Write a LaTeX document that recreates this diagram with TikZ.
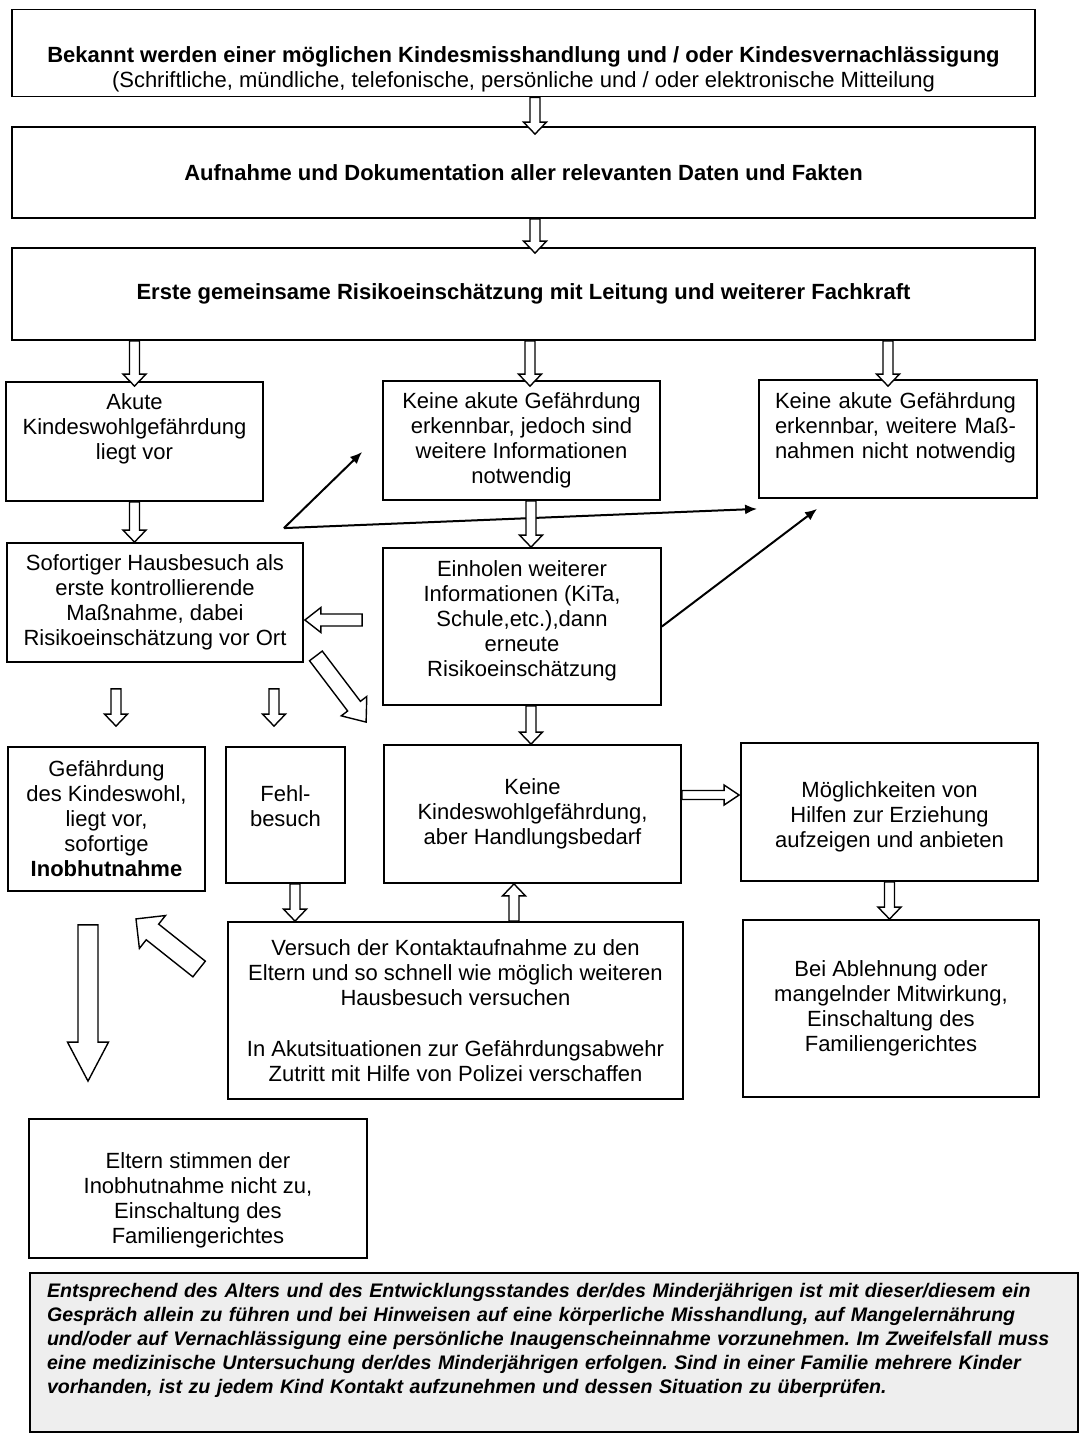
\documentclass[tikz,border=0pt]{standalone}
\usepackage{fontspec}
\setmainfont{Liberation Sans}
\usetikzlibrary{arrows.meta,calc}
\frenchspacing

\newcommand{\padtop}[1]{\rule{0pt}{#1}}
\newcommand{\padbot}[1]{\rule[-#1]{0pt}{0pt}}

% hollow block arrow: start, target, half shaft, half head, head length
\newcommand{\blockarrow}[5]{%
  \draw[hollow] let \p1=(#1), \p2=(#2) in
    ($(\p1)!#3!90:(\p2)$) -- ($(\p2)!#5!(\p1)!#3!90:(\p2)$)
    -- ($(\p2)!#5!(\p1)!#4!90:(\p2)$) -- (\p2)
    -- ($(\p2)!#5!(\p1)!#4!-90:(\p2)$) -- ($(\p2)!#5!(\p1)!#3!-90:(\p2)$)
    -- ($(\p1)!#3!-90:(\p2)$) -- cycle;}
\newcommand{\flow}[2]{\blockarrow{#1}{#2}{2.5pt}{5.75pt}{6pt}}

\begin{document}
\begin{tikzpicture}[x=0.5pt,y=-0.5pt,
    box/.style={draw, line width=0.9pt, align=center, inner sep=0pt,
      font=\fontsize{11}{12.5}\selectfont},
    wh/.style 2 args={minimum width=#1*0.5pt, minimum height=#2*0.5pt},
    hollow/.style={draw, fill=white, line width=0.7pt, line join=miter},
    link/.style={->, line width=1pt}, >={Latex[length=6pt,width=5pt]}]

    \path[fill=white] (0,0) rectangle (1081,1434);

    \node[box, wh={1023}{87}] (known) at (523.5,53) {\padtop{24pt}\textbf{Bekannt werden einer möglichen Kindesmisshandlung und / oder Kindesvernachlässigung}\\(Schriftliche, mündliche, telefonische, persönliche und / oder elektronische Mitteilung};

    \node[box, wh={1023}{91}] (record) at (523.5,172.5) {\textbf{Aufnahme und Dokumentation aller relevanten Daten und Fakten}};

    \node[box, wh={1023}{92}] (assess) at (523.5,294) {\textbf{Erste gemeinsame Risikoeinschätzung mit Leitung und weiterer Fachkraft}};

    \node[box, wh={257}{119}] (acute) at (134.5,441.5) {Akute\\Kindeswohlgefährdung\\liegt vor\padbot{15pt}};

    \node[box, wh={277}{119}] (needinfo) at (521.5,440.5) {Keine akute Gefährdung\\erkennbar, jedoch sind\\weitere Informationen\\notwendig};

    \node[box, wh={278}{118}, text width=123pt, align=left] (nomeasure) at (898,439) {Keine akute Gefährdung\\erkennbar, weitere Maß-\\nahmen nicht notwendig\padbot{13.5pt}};

    \node[box, wh={296}{119}] (visit) at (155,602.5) {Sofortiger Hausbesuch als\\erste kontrollierende\\Maßnahme, dabei\\Risikoeinschätzung vor Ort};

    \node[box, wh={278}{157}] (gather) at (522,626.5) {Einholen weiterer\\Informationen (KiTa,\\Schule,etc.),dann\\erneute\\Risikoeinschätzung\padbot{8pt}};

    \node[box, wh={197}{144}] (danger) at (106.5,819) {Gefährdung\\des Kindeswohl,\\liegt vor,\\sofortige\\\textbf{Inobhutnahme}};

    \node[box, wh={119}{136}] (miss) at (285.5,815) {Fehl-\\besuch\padbot{8.5pt}};

    \node[box, wh={297}{138}] (need) at (532.5,814) {Keine\\Kindeswohlgefährdung,\\aber Handlungsbedarf};

    \node[box, wh={297}{138}] (help) at (889.5,812) {\padtop{13pt}Möglichkeiten von\\Hilfen zur Erziehung\\aufzeigen und anbieten};

    \node[box, wh={455}{177}] (contact) at (455.5,1010.5) {Versuch der Kontaktaufnahme zu den\\Eltern und so schnell wie möglich weiteren\\Hausbesuch versuchen\\[13pt]In Akutsituationen zur Gefährdungsabwehr\\Zutritt mit Hilfe von Polizei verschaffen};

    \node[box, wh={296}{177}] (court) at (891,1008.5) {Bei Ablehnung oder\\mangelnder Mitwirkung,\\Einschaltung des\\Familiengerichtes};

    \node[box, wh={338}{139}] (refuse) at (198,1188.5) {\padtop{20pt}Eltern stimmen der\\Inobhutnahme nicht zu,\\Einschaltung des\\Familiengerichtes};

    \node[box, wh={1048}{159}, fill=gray!13, text width=507pt, align=left,
      font=\fontsize{9.8}{12}\selectfont\bfseries\itshape] (note) at (554,1352.5) {Entsprechend des Alters und des Entwicklungsstandes der/des Minderjährigen ist mit dieser/diesem ein\\Gespräch allein zu führen und bei Hinweisen auf eine körperliche Misshandlung, auf Mangelernährung\\und/oder auf Vernachlässigung eine persönliche Inaugenscheinnahme vorzunehmen. Im Zweifelsfall muss\\eine medizinische Untersuchung der/des Minderjährigen erfolgen. Sind in einer Familie mehrere Kinder\\vorhanden, ist zu jedem Kind Kontakt aufzunehmen und dessen Situation zu überprüfen.\padbot{14.5pt}};

    % thin arrows
    \coordinate (fork) at ($(visit.north east)+(-20,-14)$);
    \draw[link] (fork) -- ($(needinfo.west)+(-20,11.5)$);
    \draw[link] (fork) -- ($(nomeasure.south west)+(-1,10)$);
    \draw[link] (gather.east) -- ($(nomeasure.south west)+(59,10)$);

    % hollow arrows
    \flow{$(known.south)+(11.5,0)$}{$(record.north)+(11.5,8)$}
    \flow{$(record.south)+(11.5,0)$}{$(assess.north)+(11.5,6)$}
    \flow{assess.south -| acute.north}{$(acute.north)+(0,5)$}
    \flow{$(assess.south -| needinfo.north)+(8.5,0)$}{$(needinfo.north)+(8.5,6)$}
    \flow{$(assess.south -| nomeasure.north)+(-10,0)$}{$(nomeasure.north)+(-10,7)$}
    \flow{acute.south}{visit.north -| acute.south}
    \flow{$(needinfo.south)+(9.5,0)$}{$(gather.north)+(9,0)$}
    \blockarrow{$(gather.west)+(-20,-6.5)$}{$(visit.east)+(1,17.5)$}{3pt}{6.25pt}{8pt}
    \blockarrow{$(visit.south east)+(12,-7)$}{$(need.north west)+(-17,-22)$}{4pt}{8pt}{10pt}
    \flow{$(visit.south -| danger.north)+(9.5,26)$}{$(danger.north)+(9.5,-20)$}
    \flow{$(visit.south -| miss.north)+(-11.5,26)$}{$(miss.north)+(-11.5,-20)$}
    \flow{$(gather.south)+(9,0)$}{$(need.north)+(-1.5,0)$}
    \blockarrow{$(need.east)+(0,-19)$}{$(help.west)+(-1,-17)$}{2.25pt}{5pt}{7.5pt}
    \flow{help.south}{court.north -| help.south}
    \flow{$(miss.south)+(9.5,0)$}{$(contact.north -| miss.south)+(9.5,0)$}
    \flow{$(contact.north)+(58.5,0)$}{$(need.south -| contact.north)+(58.5,0)$}
    \blockarrow{$(contact.west)+(-28,-41.5)$}{$(danger.south)+(29.5,27)$}{5pt}{10.5pt}{10.5pt}
    \blockarrow{$(danger.south)+(-18.5,33)$}{$(refuse.north -| danger.south)+(-18.5,-37)$}{5pt}{10.25pt}{19.5pt}

\end{tikzpicture}
\end{document}
